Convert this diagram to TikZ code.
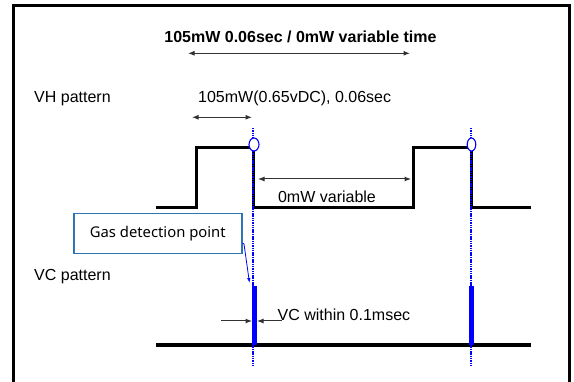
\documentclass[tikz,border=0pt]{standalone}
\usepackage{fontspec}
\setmainfont{Liberation Sans}
\newfontfamily\boxfont{Noto Sans}
\usetikzlibrary{arrows.meta}
\definecolor{boxblue}{RGB}{46,117,182}
\definecolor{dimgrey}{RGB}{50,50,50}
\begin{document}
\begin{tikzpicture}[x=1pt,y=-1pt,
  lbl/.style={font=\fontsize{16}{19}\selectfont, inner sep=0pt},
  dimarrow/.style={draw=dimgrey, line width=1pt, {Latex[length=6.5pt,width=5pt]}-{Latex[length=6.5pt,width=5pt]}},
  onearrow/.style={draw=dimgrey, line width=1pt, -{Latex[length=6.5pt,width=5pt]}},
  wave/.style={line width=3pt},
  marker/.style={blue, line width=1.3pt, dash pattern=on 1.5pt off 0.8pt},
  vcbar/.style={blue, line width=5pt},
  ring/.style={draw=blue, line width=1.1pt, fill=white}]
\useasboundingbox (0,0) rectangle (574,382);
% frame
\draw[line width=3pt] (13.5,390) -- (13.5,6) -- (569,6) -- (569,390);
% title and dimension arrows
\node[lbl, font=\fontsize{16}{19}\selectfont\bfseries, anchor=base] (title) at (300.5,42.7) {105mW 0.06sec / 0mW variable time};
\coordinate (t1) at (188,53.3);
\coordinate (t2) at (410,53.3);
\draw[dimarrow] (t1) -- (t2);
\node[lbl, anchor=base west] (vhlbl) at (34,102.3) {VH pattern};
\node[lbl, anchor=base west] (vhval) at (198,102.3) {105mW(0.65vDC), 0.06sec};
\coordinate (s1) at (192,117.3);
\coordinate (s2) at (252,117.3);
\draw[dimarrow] (s1) -- (s2);
% VH waveform
\coordinate (h0) at (156,207.5);
\coordinate (h1) at (196,207.5);
\coordinate (h2) at (196,147.7);
\coordinate (h3) at (253,147.7);
\coordinate (h4) at (253,207.5);
\coordinate (h5) at (413,207.5);
\coordinate (h6) at (413,147.7);
\coordinate (h7) at (471,147.7);
\coordinate (h8) at (471,207.5);
\coordinate (h9) at (531,207.5);
\draw[wave] (h0) -- (h1) -- (h2) -- (h3) -- (h4) -- (h5) -- (h6) -- (h7) -- (h8) -- (h9);
% 0mW variable
\coordinate (v1) at (258,179);
\coordinate (v2) at (411,179);
\draw[dimarrow] (v1) -- (v2);
\node[lbl, anchor=base] (varlbl) at (327,202.5) {0mW variable};
% VC baseline
\coordinate (c0) at (156,345);
\coordinate (c1) at (531,345);
\draw[line width=4pt] (c0) -- (c1);
% VC bars
\coordinate (b1t) at (254.5,286);
\coordinate (b1b) at (254.5,345);
\coordinate (b2t) at (471,286);
\coordinate (b2b) at (471,345);
\draw[vcbar] (b1t) -- (b1b);
\draw[vcbar] (b2t) -- (b2b);
% dotted markers
\coordinate (m1t) at (253,128);
\coordinate (m1b) at (253,365);
\coordinate (m2t) at (471,128);
\coordinate (m2b) at (471,365);
\draw[marker] (m1t) -- (m1b);
\draw[marker] (m2t) -- (m2b);
\draw[ring] (254,144.5) ellipse [x radius=5, y radius=6.5];
\draw[ring] (471.5,144.5) ellipse [x radius=4.3, y radius=6.5];
% VC label
\node[lbl, anchor=base west] (vclbl) at (34,281) {VC pattern};
% Gas detection box
\node[draw=boxblue, line width=1.5pt, minimum width=168pt, minimum height=40pt, inner sep=0pt, anchor=north west, font=\boxfont\fontsize{14.8}{17}\selectfont] (gas) at (73,213) {\raisebox{-3pt}{Gas detection point}};
\coordinate (g1) at (244,244);
\coordinate (g2) at (249.5,283);
\draw[blue, line width=0.8pt, -{Latex[length=5pt,width=3.5pt]}] (gas.east |- 0,243) -- (g1) -- (g2);
% VC within arrows
\coordinate (a1) at (221,321);
\coordinate (a2) at (252,321);
\coordinate (a3) at (282,321);
\coordinate (a4) at (257,321);
\draw[onearrow] (a1) -- (a2);
\draw[onearrow] (a3) -- (a4);
\node[lbl, anchor=base west] (vcwithin) at (277.5,321) {VC within 0.1msec};
\end{tikzpicture}
\end{document}
